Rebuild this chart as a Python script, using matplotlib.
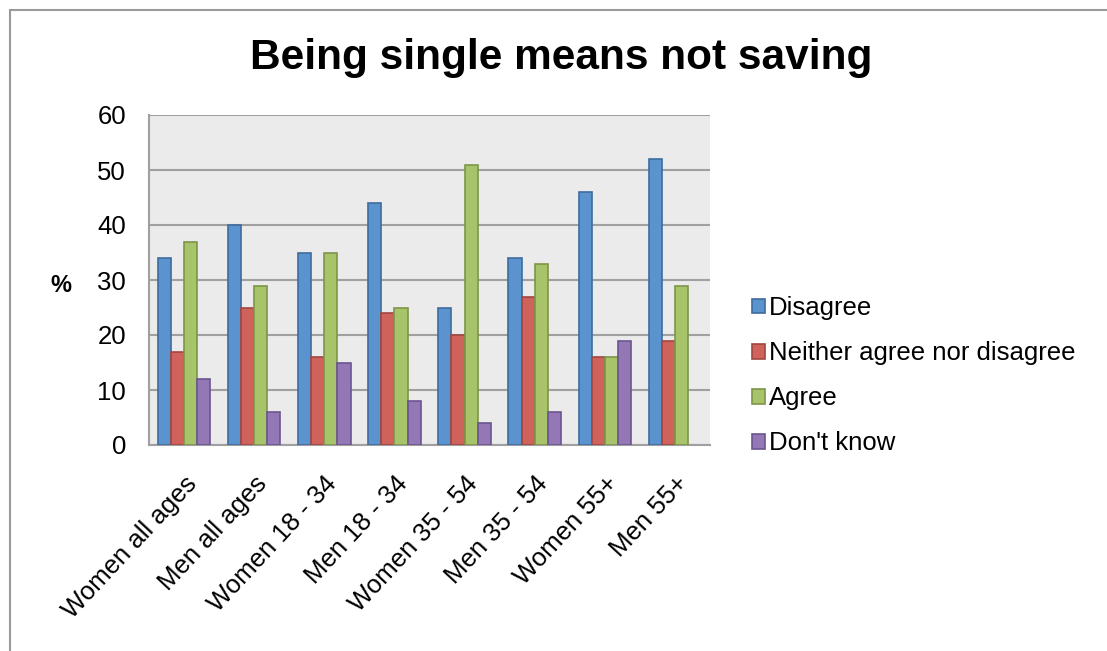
import numpy as np
import matplotlib.pyplot as plt
from matplotlib.patches import Rectangle

plt.rcParams['font.family'] = ['Liberation Sans', 'DejaVu Sans']

groups = ['Women all ages', 'Men all ages', 'Women 18 - 34', 'Men 18 - 34',
          'Women 35 - 54', 'Men 35 - 54', 'Women 55+', 'Men 55+']
series = ['Disagree', 'Neither agree nor disagree', 'Agree', "Don't know"]
disagree = [34, 40, 35, 44, 25, 34, 46, 52]
neither = [17, 25, 16, 24, 20, 27, 16, 19]
agree = [37, 29, 35, 25, 51, 33, 16, 29]
dont_know = [12, 6, 15, 8, 4, 6, 19, None]  # no value for Men 55+

fills = ['#5B93CE', '#D0625C', '#A8C46A', '#9478B5']
edges = ['#3E6C9E', '#A04743', '#7D9647', '#6B5590']

fig = plt.figure(figsize=(11.07, 6.51), dpi=100)
W, H = 1107, 651

# outer chart frame (runs off the right and bottom edges)
fig.patches.append(Rectangle((10 / W, -0.1), 1.2, 1 - 10 / H + 0.1,
                             transform=fig.transFigure, fill=False,
                             edgecolor='#9A9A9A', linewidth=1.5))

ax = fig.add_axes([149 / W, 1 - 445 / H, (710 - 149) / W, (445 - 115) / H])
ax.set_facecolor('#EBEBEB')

x = np.arange(len(groups))
width = 0.187
data = [disagree, neither, agree, dont_know]
for i, (vals, name) in enumerate(zip(data, series)):
    h = np.array([np.nan if v is None else v for v in vals], dtype=float)
    ax.bar(x + (i - 1.5) * width, h, width, color=fills[i],
           edgecolor=edges[i], linewidth=1.2, label=name, zorder=3)

ax.set_xlim(-0.5, len(groups) - 0.5)
ax.set_ylim(0, 60)
ax.set_yticks(range(0, 61, 10))
ax.yaxis.grid(True, color='#A0A0A0', linewidth=1.5, zorder=1)
ax.set_axisbelow(True)
for s in ['top', 'right']:
    ax.spines[s].set_visible(False)
for s in ['left', 'bottom']:
    ax.spines[s].set_color('#A0A0A0')
    ax.spines[s].set_linewidth(1.5)

ax.set_xticks(x)
ax.set_xticklabels(groups, rotation=47, ha='right', rotation_mode='anchor',
                   fontsize=18.5)
ax.tick_params(axis='x', length=0, pad=19)
ax.tick_params(axis='y', length=0, labelsize=18.5, pad=16.5)

fig.text(61 / W, 1 - 285 / H, '%', fontsize=17, fontweight='bold',
         ha='center', va='center')

fig.text(561 / W, 1 - 58 / H, 'Being single means not saving', fontsize=30.5,
         fontweight='bold', ha='center', va='center')

ax.legend(loc='upper left', bbox_to_anchor=(742 / W, 1 - 286 / H),
          bbox_transform=fig.transFigure, frameon=False, fontsize=18.5,
          handlelength=0.5, handleheight=0.5, handletextpad=0.15,
          labelspacing=0.82, borderaxespad=0)

fig.savefig('out.png', dpi=100)
